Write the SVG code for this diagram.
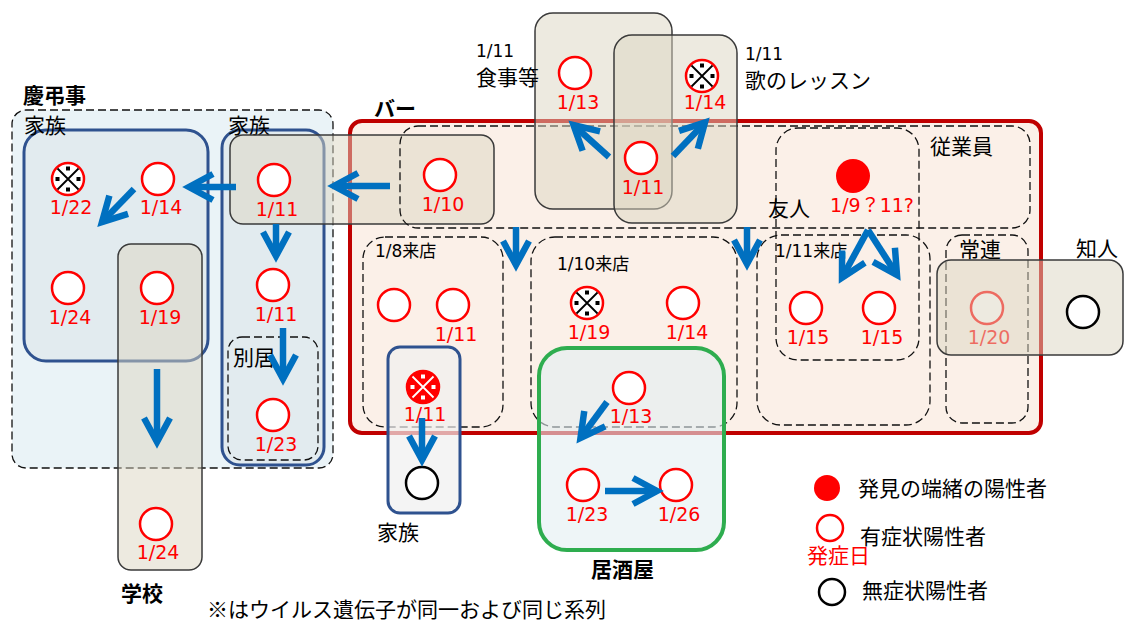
<svg xmlns="http://www.w3.org/2000/svg" xmlns:xlink="http://www.w3.org/1999/xlink" width="1125" height="622" viewBox="0 0 1125 622">
<style>
.dash{fill:none;stroke:#111;stroke-width:1.3;stroke-dasharray:8 4}
.gbox{fill:#DCD5C2;fill-opacity:.5;stroke:#3a3a3a;stroke-width:1.5}
.fam{stroke:#2F528F;stroke-width:3}
.pc{fill:#fff;stroke:#FF0000;stroke-width:2.5}
.ac{fill:#fff;stroke:#000;stroke-width:2.5}
.dt{font-family:"DejaVu Sans","Noto Sans CJK JP",sans-serif;font-size:19px;fill:#FF0000;text-anchor:middle}
.jp{font-family:"Noto Sans CJK JP",sans-serif;fill:#000;font-size:21px}
.b{font-weight:bold}
.lb{font-family:"DejaVu Sans","Noto Sans CJK JP",sans-serif;font-size:17px;fill:#000}
.arr{fill:none;stroke:#0070C0;stroke-width:6.5;marker-end:url(#ah)}
</style>
<defs>
<marker id="ah" markerUnits="userSpaceOnUse" markerWidth="40" markerHeight="40" viewBox="-30 -20 40 40" refX="0" refY="0" orient="auto" overflow="visible">
<path d="M-24,-13 L0,0 L-24,13" fill="none" stroke="#0070C0" stroke-width="6.5"/>
</marker>
<g id="kome">
<circle r="16" fill="#fff" stroke="#FF0000" stroke-width="2.5"/>
<path d="M-10.5,-10.5 L10.5,10.5 M10.5,-10.5 L-10.5,10.5" stroke="#000" stroke-width="1.8"/>
<rect x="-2" y="-12.5" width="4" height="4" fill="#000"/>
<rect x="-2" y="8.5" width="4" height="4" fill="#000"/>
<rect x="-12.5" y="-2" width="4" height="4" fill="#000"/>
<rect x="8.5" y="-2" width="4" height="4" fill="#000"/>
</g>
<g id="komeR">
<circle r="16" fill="#FF0000" stroke="#FF0000" stroke-width="2.5"/>
<path d="M-10.5,-10.5 L10.5,10.5 M10.5,-10.5 L-10.5,10.5" stroke="#fff" stroke-width="1.8"/>
<rect x="-2" y="-12.5" width="4" height="4" fill="#fff"/>
<rect x="-2" y="8.5" width="4" height="4" fill="#fff"/>
<rect x="-12.5" y="-2" width="4" height="4" fill="#fff"/>
<rect x="8.5" y="-2" width="4" height="4" fill="#fff"/>
</g>
</defs>
<rect width="1125" height="622" fill="#fff"/>

<g id="keichoji">
<rect x="12" y="110" width="321" height="358" rx="14" class="dash" style="fill:#EAF3F7"/>
<text class="jp b" x="23" y="103" font-size="22">慶弔事</text>
</g>

<g id="family-left">
<rect x="24" y="130" width="184" height="231" rx="22" fill="#E2EBEF" class="fam"/>
<text class="jp" x="24" y="133">家族</text>
</g>

<g id="family-right">
<rect x="222" y="130" width="102" height="335" rx="18" fill="#E2EBEF" class="fam"/>
<text class="jp" x="228" y="133">家族</text>
<rect x="228" y="337" width="90" height="123" rx="14" class="dash"/>
<text class="jp" x="233" y="365">別居</text>
</g>

<g id="school">
<rect x="118" y="244" width="84" height="326" rx="13" class="gbox"/>
<text class="jp b" x="121" y="601">学校</text>
</g>

<g id="bar">
<rect x="350" y="121" width="691" height="312" rx="12" fill="#FBF0E8" stroke="#C00000" stroke-width="4"/>
<text class="jp b" x="374" y="116" font-size="22">バー</text>
</g>

<g id="link-box">
<rect x="230" y="135" width="264" height="89" rx="13" class="gbox"/>
</g>

<g id="employee">
<rect x="400" y="126" width="630" height="102" rx="18" class="dash"/>
<text class="jp" x="930" y="154" font-size="22">従業員</text>
</g>

<g id="friend">
<rect x="776" y="128" width="143" height="232" rx="22" class="dash"/>
<text class="jp" x="768" y="216">友人</text>
</g>

<g id="visit-0111">
<rect x="757" y="235" width="173" height="190" rx="24" class="dash"/>
<text class="lb" x="775" y="257">1/11来店</text>
</g>

<g id="regular">
<rect x="946" y="235" width="82" height="188" rx="16" class="dash"/>
<text class="jp" x="959" y="257" font-size="19">常連</text>
</g>

<g id="visit-0108">
<rect x="363" y="237" width="140" height="190" rx="22" class="dash"/>
<text class="lb" x="375" y="257">1/8来店</text>
</g>

<g id="visit-0110">
<rect x="531" y="237" width="206" height="190" rx="24" class="dash"/>
<text class="lb" x="557" y="270">1/10来店</text>
</g>

<g id="dining">
<rect x="535" y="13" width="137" height="196" rx="18" class="gbox"/>
<text class="lb" x="476" y="57">1/11</text>
<text class="jp" x="476" y="85" font-size="18">食事等</text>
</g>

<g id="song">
<rect x="614" y="35" width="123" height="188" rx="18" class="gbox"/>
<text class="lb" x="745" y="60">1/11</text>
<text class="jp" x="745" y="88" font-size="17.5">歌のレッスン</text>
</g>

<g id="family-bottom">
<rect x="388" y="347" width="72" height="166" rx="12" fill="#EFEFEF" fill-opacity=".7" class="fam"/>
<text class="jp" x="377" y="540">家族</text>
</g>

<g id="izakaya">
<rect x="539" y="348" width="185" height="202" rx="28" fill="#E3EEF2" fill-opacity=".6" stroke="#2EAD4F" stroke-width="4"/>
<text class="jp b" x="591" y="577" font-size="22">居酒屋</text>
</g>

<g id="cases">
<use xlink:href="#kome" href="#kome" x="68" y="179"/><text class="dt" x="71" y="214">1/22</text>
<circle class="pc" cx="158" cy="179" r="16"/><text class="dt" x="161" y="214">1/14</text>
<circle class="pc" cx="68" cy="288" r="16"/><text class="dt" x="70" y="324">1/24</text>
<circle class="pc" cx="157" cy="288" r="16"/><text class="dt" x="160" y="324">1/19</text>
<circle class="pc" cx="274" cy="180" r="16"/><text class="dt" x="277" y="216">1/11</text>
<circle class="pc" cx="273" cy="285" r="16"/><text class="dt" x="276" y="321">1/11</text>
<circle class="pc" cx="273" cy="415" r="16"/><text class="dt" x="276" y="451">1/23</text>
<circle class="pc" cx="156" cy="524" r="16"/><text class="dt" x="158" y="559">1/24</text>
<circle class="pc" cx="440" cy="175" r="16"/><text class="dt" x="443" y="211">1/10</text>
<circle class="pc" cx="575" cy="73" r="16"/><text class="dt" x="578" y="109">1/13</text>
<use xlink:href="#kome" href="#kome" x="702" y="76"/><text class="dt" x="705" y="109">1/14</text>
<circle class="pc" cx="641" cy="158" r="16"/><text class="dt" x="643" y="194">1/11</text>
<circle class="pc" cx="394" cy="305" r="16"/>
<circle class="pc" cx="453" cy="305" r="16"/><text class="dt" x="456" y="341">1/11</text>
<use xlink:href="#komeR" href="#komeR" x="423" y="387"/><text class="dt" x="425" y="421">1/11</text>
<circle class="ac" cx="422" cy="483" r="16"/>
<use xlink:href="#kome" href="#kome" x="587" y="303"/><text class="dt" x="589" y="339">1/19</text>
<circle class="pc" cx="683" cy="303" r="16"/><text class="dt" x="687" y="339">1/14</text>
<circle class="pc" cx="629" cy="388" r="16"/><text class="dt" x="631" y="423">1/13</text>
<circle class="pc" cx="583" cy="485" r="16"/><text class="dt" x="587" y="521">1/23</text>
<circle class="pc" cx="676" cy="485" r="16"/><text class="dt" x="679" y="521">1/26</text>
<circle cx="853" cy="176" r="17" fill="#FF0000"/><text class="dt" x="872" y="212">1/9？11?</text>
<circle class="pc" cx="806" cy="308" r="16"/><text class="dt" x="808" y="344">1/15</text>
<circle class="pc" cx="879" cy="308" r="16"/><text class="dt" x="882" y="344">1/15</text>
<circle class="pc" cx="987" cy="308" r="16"/><text class="dt" x="989" y="344">1/20</text>
</g>

<g id="acquaintance">
<rect x="937" y="260" width="186" height="95" rx="14" class="gbox"/>
<text class="jp" x="1076" y="256">知人</text>
<circle class="ac" cx="1083" cy="312" r="16"/>
</g>

<g id="connectors">
<path class="arr" d="M390,186 L334,186"/>
<path class="arr" d="M236,187 L189,187"/>
<path class="arr" d="M134,189 L102,222"/>
<path class="arr" d="M276,224 L276,256"/>
<path class="arr" d="M283,328 L283,379"/>
<path class="arr" d="M157,369 L157,442"/>
<path class="arr" d="M516,227 L516,265"/>
<path class="arr" d="M747,227 L747,264"/>
<path class="arr" d="M609,157 L573.5,125"/>
<path class="arr" d="M673,156 L705,122.4"/>
<path class="arr" d="M868,230 L842,277.7"/>
<path class="arr" d="M868,230 L897,275"/>
<path class="arr" d="M422,418 L422,460"/>
<path class="arr" d="M607,402 L580.5,438"/>
<path class="arr" d="M605,491 L657,491"/>
</g>

<g id="legend">
<circle cx="827" cy="488" r="13" fill="#FF0000"/>
<text class="jp" x="858" y="496" font-size="19.5">発見の端緒の陽性者</text>
<circle cx="830" cy="528" r="13" fill="#fff" stroke="#FF0000" stroke-width="2.5"/>
<text class="jp" x="860" y="544" font-size="19.5">有症状陽性者</text>
<text class="jp" x="807" y="563" font-size="17" style="fill:#FF0000">発症日</text>
<circle cx="832" cy="592" r="13" fill="#fff" stroke="#000" stroke-width="2.5"/>
<text class="jp" x="862" y="598" font-size="19.5">無症状陽性者</text>
</g>

<g id="note">
<text class="jp" x="207" y="617" font-size="21">※はウイルス遺伝子が同一および同じ系列</text>
</g>
</svg>
